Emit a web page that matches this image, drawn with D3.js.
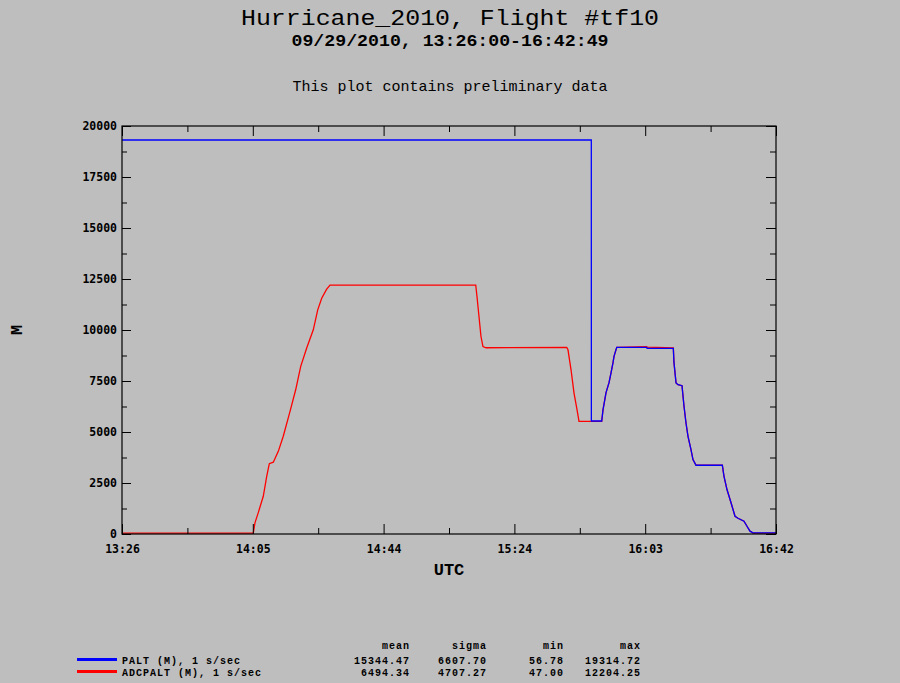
<!DOCTYPE html>
<html>
<head>
<meta charset="utf-8">
<script src="https://cdn.jsdelivr.net/npm/d3@7"></script>
<style>
  body { margin: 0; background: #bebebe; }
  svg { display: block; }
  .tick text { font-family: "DejaVu Sans Mono", monospace; font-weight: bold; font-size: 11.5px; fill: #000; }
  .tick line { stroke: #000; }
  .mono { font-family: "Liberation Mono", "DejaVu Sans Mono", monospace; fill: #000; }
</style>
</head>
<body>
<svg id="chart" width="900" height="683"></svg>
<script>
// ---- data ----
var timeRange = ["13:26:00", "16:42:49"];
var yTicks = [0, 2500, 5000, 7500, 10000, 12500, 15000, 17500, 20000];
var xTickLabels = ["13:26", "14:05", "14:44", "15:24", "16:03", "16:42"];

// PALT (M), 1 s/sec
var paltTimes = ["13:26:00", "15:47:14", "15:47:15", "15:50:22", "15:50:46", "15:51:40", "15:52:34",
  "15:53:10", "15:53:46", "15:54:04", "15:54:53", "16:03:55", "16:04:00", "16:11:55", "16:12:07",
  "16:12:44", "16:13:20", "16:14:32", "16:15:08", "16:15:44", "16:16:20", "16:17:14", "16:17:50",
  "16:18:45", "16:26:40", "16:27:10", "16:28:04", "16:29:17", "16:30:29", "16:31:23", "16:33:11",
  "16:34:05", "16:34:59", "16:35:54", "16:42:49"];
var paltValues = [19314, 19314, 5540, 5540, 6100, 6930, 7420,
  7900, 8400, 8710, 9150, 9150, 9100, 9100, 8400,
  7400, 7320, 7270, 6260, 5440, 4790, 4140, 3650,
  3370, 3370, 2830, 2180, 1530, 870, 770, 630,
  380, 140, 57, 57];

// ADCPALT (M), 1 s/sec
var adcTimes = ["13:26:00", "14:05:31", "14:06:02", "14:07:01", "14:08:31", "14:09:33", "14:10:20",
  "14:11:32", "14:13:02", "14:14:32", "14:16:34", "14:18:16", "14:19:47", "14:21:35", "14:23:34",
  "14:24:54", "14:26:06", "14:27:36", "14:28:36", "15:12:27", "15:12:50", "15:13:26", "15:14:02",
  "15:14:38", "15:15:33", "15:39:50", "15:40:13", "15:41:08", "15:42:02", "15:42:56", "15:43:32",
  "15:50:22", "15:50:46", "15:51:40", "15:52:34", "15:53:10", "15:53:46", "15:54:04", "15:54:53",
  "16:03:55", "16:04:00", "16:11:55", "16:12:07", "16:12:44", "16:13:20", "16:14:32", "16:15:08",
  "16:15:44", "16:16:20", "16:17:14", "16:17:50", "16:18:45", "16:26:40", "16:27:10", "16:28:04",
  "16:29:17", "16:30:29", "16:31:23", "16:33:11", "16:34:05", "16:34:59", "16:35:54", "16:42:49"];
var adcValues = [47, 47, 560, 1050, 1850, 2830, 3450,
  3520, 4050, 4790, 6010, 7070, 8220, 9120, 10010,
  10990, 11560, 12000, 12204, 12204, 11640, 10660, 9680,
  9190, 9130, 9150, 9030, 8050, 6910, 6100, 5520,
  5520, 6100, 6930, 7420, 7900, 8400, 8710, 9150,
  9180, 9160, 9120, 8400, 7400, 7320, 7270, 6260,
  5440, 4790, 4140, 3650, 3370, 3370, 2830, 2180,
  1530, 870, 770, 630, 380, 140, 47, 47];

var legendNames = ["PALT (M), 1 s/sec", "ADCPALT (M), 1 s/sec"];
var legendColors = ["#0000ff", "#ff0000"];
var statHeaders = ["mean", "sigma", "min", "max"];
var statRows = [
  ["15344.47", "6607.70", "56.78", "19314.72"],
  ["6494.34", "4707.27", "47.00", "12204.25"]
];

// ---- layout ----
var svg = d3.select("#chart");
var margin = { left: 122, top: 126, right: 124, bottom: 149 };
var width = 900 - margin.left - margin.right;
var height = 683 - margin.top - margin.bottom;

var parseTime = d3.timeParse("%H:%M:%S");
var t0 = parseTime(timeRange[0]), t1 = parseTime(timeRange[1]);

var x = d3.scaleTime().domain([t0, t1]).range([0, width]);
var y = d3.scaleLinear().domain([0, 20000]).range([height, 0]);

var majorX = d3.range(xTickLabels.length).map(function (i) {
  return new Date(+t0 + i * (t1 - t0) / (xTickLabels.length - 1));
});
var minorX = d3.range(xTickLabels.length - 1).map(function (i) {
  return new Date(+t0 + (i + 0.5) * (t1 - t0) / (xTickLabels.length - 1));
});
var minorY = yTicks.slice(0, -1).map(function (d, i) { return (d + yTicks[i + 1]) / 2; });

// titles
svg.append("text").attr("class", "mono").attr("x", 450).attr("y", 25)
  .attr("text-anchor", "middle").style("font-size", "22px")
  .attr("textLength", 418).attr("lengthAdjust", "spacingAndGlyphs")
  .text("Hurricane_2010, Flight #tf10");
svg.append("text").attr("class", "mono").attr("x", 450).attr("y", 45.5)
  .attr("text-anchor", "middle").style("font-size", "17px").style("font-weight", "bold")
  .attr("textLength", 317).attr("lengthAdjust", "spacingAndGlyphs")
  .text("09/29/2010, 13:26:00-16:42:49");
svg.append("text").attr("class", "mono").attr("x", 450).attr("y", 91)
  .attr("text-anchor", "middle").style("font-size", "15px")
  .text("This plot contains preliminary data");

var g = svg.append("g").attr("transform", "translate(" + margin.left + "," + margin.top + ")");

// series lines
var line = d3.line()
  .x(function (d) { return x(d.t); })
  .y(function (d) { return y(d.v); });

var adcData = adcTimes.map(function (d, i) { return { t: parseTime(d), v: adcValues[i] }; });
var paltData = paltTimes.map(function (d, i) { return { t: parseTime(d), v: paltValues[i] }; });

g.append("path").datum(adcData).attr("d", line)
  .attr("fill", "none").attr("stroke", legendColors[1]).attr("stroke-width", 1.3);
g.append("path").datum(paltData).attr("d", line)
  .attr("fill", "none").attr("stroke", legendColors[0]).attr("stroke-width", 1.3);

// axes: major ticks with labels, minor ticks without
function clean(sel) { sel.select(".domain").remove(); }

g.append("g").call(d3.axisLeft(y).tickValues(yTicks).tickSize(-9).tickSizeOuter(0).tickPadding(5)
  .tickFormat(d3.format("d"))).call(clean);
g.append("g").call(d3.axisLeft(y).tickValues(minorY).tickSize(-5).tickFormat("")).call(clean);
g.append("g").attr("transform", "translate(" + width + ",0)")
  .call(d3.axisRight(y).tickValues(yTicks).tickSize(-10).tickFormat("")).call(clean);
g.append("g").attr("transform", "translate(" + width + ",0)")
  .call(d3.axisRight(y).tickValues(minorY).tickSize(-6).tickFormat("")).call(clean);

g.append("g").attr("transform", "translate(0," + height + ")")
  .call(d3.axisBottom(x).tickValues(majorX).tickSize(-10).tickPadding(11)
    .tickFormat(function (d, i) { return xTickLabels[i]; })).call(clean);
g.append("g").attr("transform", "translate(0," + height + ")")
  .call(d3.axisBottom(x).tickValues(minorX).tickSize(-6).tickFormat("")).call(clean);
g.append("g").call(d3.axisTop(x).tickValues(majorX).tickSize(-10).tickFormat("")).call(clean);
g.append("g").call(d3.axisTop(x).tickValues(minorX).tickSize(-6).tickFormat("")).call(clean);

// frame
g.append("rect").attr("x", 0).attr("y", 0).attr("width", width).attr("height", height)
  .attr("fill", "none").attr("stroke", "#000").attr("stroke-width", 1.2);

// axis titles
svg.append("text").attr("class", "mono").attr("x", 449).attr("y", 575)
  .attr("text-anchor", "middle").style("font-size", "17px").style("font-weight", "bold")
  .text("UTC");
svg.append("text").attr("class", "mono")
  .attr("transform", "translate(22,330) rotate(-90)")
  .attr("text-anchor", "middle").style("font-size", "17px").style("font-weight", "bold")
  .text("M");

// legend + statistics table
var legend = svg.append("g").style("font-family", "'Liberation Mono', 'DejaVu Sans Mono', monospace")
  .style("font-size", "10px").style("font-weight", "bold").style("letter-spacing", "1px");
var colRight = [410, 487, 564, 641];
var rowY = [664, 676];

statHeaders.forEach(function (h, j) {
  legend.append("text").attr("x", colRight[j]).attr("y", 648.5)
    .attr("text-anchor", "end").text(h);
});

legendNames.forEach(function (name, i) {
  legend.append("line").attr("x1", 77).attr("x2", 117)
    .attr("y1", rowY[i] - 4.5).attr("y2", rowY[i] - 4.5)
    .attr("stroke", legendColors[i]).attr("stroke-width", 3);
  legend.append("text").attr("x", 122).attr("y", rowY[i]).text(name);
  statRows[i].forEach(function (v, j) {
    legend.append("text").attr("x", colRight[j]).attr("y", rowY[i])
      .attr("text-anchor", "end").text(v);
  });
});
</script>
</body>
</html>
